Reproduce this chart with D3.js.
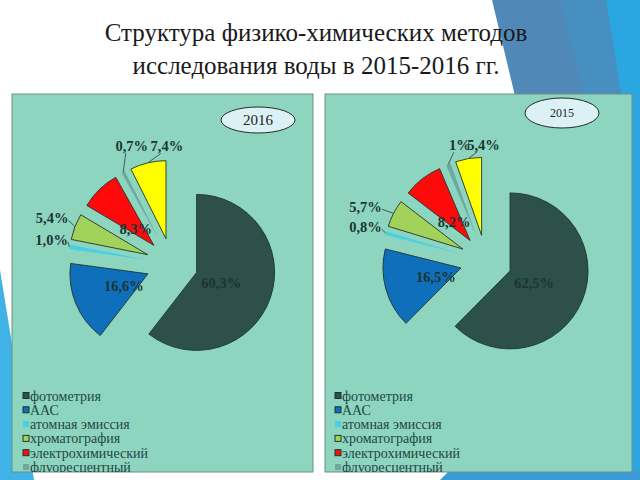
<!DOCTYPE html>
<html>
<head>
<meta charset="utf-8">
<script src="https://cdn.jsdelivr.net/npm/d3@7"></script>
<style>
  body { margin: 0; background: #fff; }
  svg { display: block; }
  text { font-family: "Liberation Serif", "Times New Roman", serif; }
</style>
</head>
<body>
<div id="chart"></div>
<script>
const categories = ["фотометрия", "ААС", "атомная эмиссия", "хроматография", "электрохимический", "флуоресцентный", "прочие"];
const values2016 = [60.3, 16.6, 1.0, 5.4, 8.3, 0.7, 7.4];
const values2015 = [62.5, 16.5, 0.8, 5.7, 8.2, 1, 5.4];
const labels2016 = ["60,3%", "16,6%", "1,0%", "5,4%", "8,3%", "0,7%", "7,4%"];
const labels2015 = ["62,5%", "16,5%", "0,8%", "5,7%", "8,2%", "1%", "5,4%"];

const colors = ["#2e504b", "#0f6fbb", "#48d0e4", "#a2d25a", "#ff0a0a", "#6ea9a1", "#ffff00"];
const outlined = [true, true, false, true, true, false, true];
const outside = [false, false, true, true, false, true, true];

const panels = [
  { year: "2016", values: values2016, labels: labels2016, x: 12, y: 94, w: 301, h: 378,
    cx: 160, cy: 170, ell: { x: 246, y: 26, rx: 37, ry: 13, fs: 15 }, legX: 11,
    nudge: { 2: [0, -4], 3: [-6, -2], 5: [17, -10], 6: [23, 1] } },
  { year: "2015", values: values2015, labels: labels2015, x: 325, y: 94, w: 307, h: 378,
    cx: 161, cy: 167, ell: { x: 237, y: 19, rx: 37, ry: 15, fs: 12 }, legX: 10,
    nudge: { 2: [-3, -1], 3: [-12, 2], 5: [18, -2], 6: [18, 4] } }
];

const radius = 78, explode = 26, labelR = 122;

const svg = d3.select("#chart").append("svg")
  .attr("width", 640).attr("height", 480);

// slide decoration
svg.append("polygon").attr("points", "0,270 34,480 0,480").attr("fill", "#3fb2e6");
svg.append("polygon").attr("points", "598,0 640,0 640,480 630,480").attr("fill", "#2ba6e0");
svg.append("polygon").attr("points", "492,0 606,0 622,100 516,100").attr("fill", "#5089b7");
svg.append("polygon").attr("points", "560,0 606,0 622,100 585,100").attr("fill", "#4292c8").attr("opacity", 0.6);
svg.append("polygon").attr("points", "450,470 640,470 640,480 440,480").attr("fill", "#3a9bd6");

const title = svg.append("text")
  .attr("text-anchor", "middle")
  .attr("font-size", 25).attr("fill", "#1a1a1a");
title.append("tspan").attr("x", 316).attr("y", 41).text("Структура физико-химических методов");
title.append("tspan").attr("x", 316).attr("y", 74).text("исследования воды в 2015-2016 гг.");

const pie = d3.pie().sort(null).value(d => d);
const arc = d3.arc().innerRadius(0).outerRadius(radius);
const dir = a => [Math.sin(a), -Math.cos(a)];

panels.forEach((p, pi) => {
  const g = svg.append("g").attr("transform", `translate(${p.x},${p.y})`);

  const clipId = "clip" + pi;
  g.append("clipPath").attr("id", clipId)
    .append("rect").attr("width", p.w).attr("height", p.h);

  g.append("rect")
    .attr("width", p.w).attr("height", p.h)
    .attr("fill", "#8ed5c0").attr("stroke", "#6f8f88").attr("stroke-width", 1);

  const inner = g.append("g").attr("clip-path", `url(#${clipId})`);

  // year badge
  inner.append("ellipse")
    .attr("cx", p.ell.x).attr("cy", p.ell.y).attr("rx", p.ell.rx).attr("ry", p.ell.ry)
    .attr("fill", "#dbf1f6").attr("stroke", "#2a2a2a").attr("stroke-width", 1);
  inner.append("text")
    .attr("x", p.ell.x).attr("y", p.ell.y)
    .attr("text-anchor", "middle").attr("dominant-baseline", "central")
    .attr("font-size", p.ell.fs)
    .attr("fill", "#222").text(p.year);

  const arcs = pie(p.values);
  const pg = inner.append("g").attr("transform", `translate(${p.cx},${p.cy})`);

  pg.selectAll("path.slice")
    .data(arcs)
    .join("path")
    .attr("class", "slice")
    .attr("transform", d => {
      const [dx, dy] = dir((d.startAngle + d.endAngle) / 2);
      return `translate(${dx * explode},${dy * explode})`;
    })
    .attr("d", arc)
    .attr("fill", (d, i) => colors[i])
    .attr("stroke", (d, i) => outlined[i] ? "#1d3530" : "none")
    .attr("stroke-width", 0.9);

  arcs.forEach((d, i) => {
    const mid = (d.startAngle + d.endAngle) / 2;
    const [ux, uy] = dir(mid);
    if (!outside[i]) {
      const r = explode + radius / 3;
      pg.append("text")
        .attr("x", ux * r).attr("y", uy * r + 2)
        .attr("text-anchor", "middle").attr("dominant-baseline", "central")
        .attr("font-weight", "bold").attr("font-size", 14.5)
        .attr("fill", "#1c3533").text(p.labels[i]);
    } else {
      const nd = p.nudge[i] || [0, 0];
      const lx = ux * labelR + nd[0], ly = uy * labelR + nd[1];
      const t = pg.append("text")
        .attr("x", lx).attr("y", ly)
        .attr("text-anchor", "middle").attr("dominant-baseline", "central")
        .attr("font-weight", "bold").attr("font-size", 14.5)
        .attr("fill", "#1c3533").text(p.labels[i]);
      const tw = t.node().getComputedTextLength();
      const ox = ux * (explode + radius), oy = uy * (explode + radius);
      let sx, sy;
      if (uy < -0.8) { sx = lx - 6; sy = ly + 7; }
      else { sx = lx + tw / 2; sy = ly + 2; }
      pg.insert("line", "text")
        .attr("x1", sx).attr("y1", sy).attr("x2", ox).attr("y2", oy)
        .attr("stroke", "#3d5a57").attr("stroke-width", 1);
    }
  });

  // legend
  const leg = inner.append("g").attr("transform", `translate(${p.legX},302)`);
  const rows = leg.selectAll("g").data(categories).join("g")
    .attr("transform", (d, i) => `translate(0,${i * 14.3})`);
  rows.append("rect")
    .attr("x", 0).attr("y", -3.5).attr("width", 6).attr("height", 6)
    .attr("fill", (d, i) => colors[i])
    .attr("stroke", (d, i) => outlined[i] ? "#1d3530" : "none")
    .attr("stroke-width", 1);
  rows.append("text")
    .attr("x", 7).attr("y", 0)
    .attr("dominant-baseline", "central")
    .attr("font-size", 14)
    .attr("fill", "#1f4744").text(d => d);
});
</script>
</body>
</html>
